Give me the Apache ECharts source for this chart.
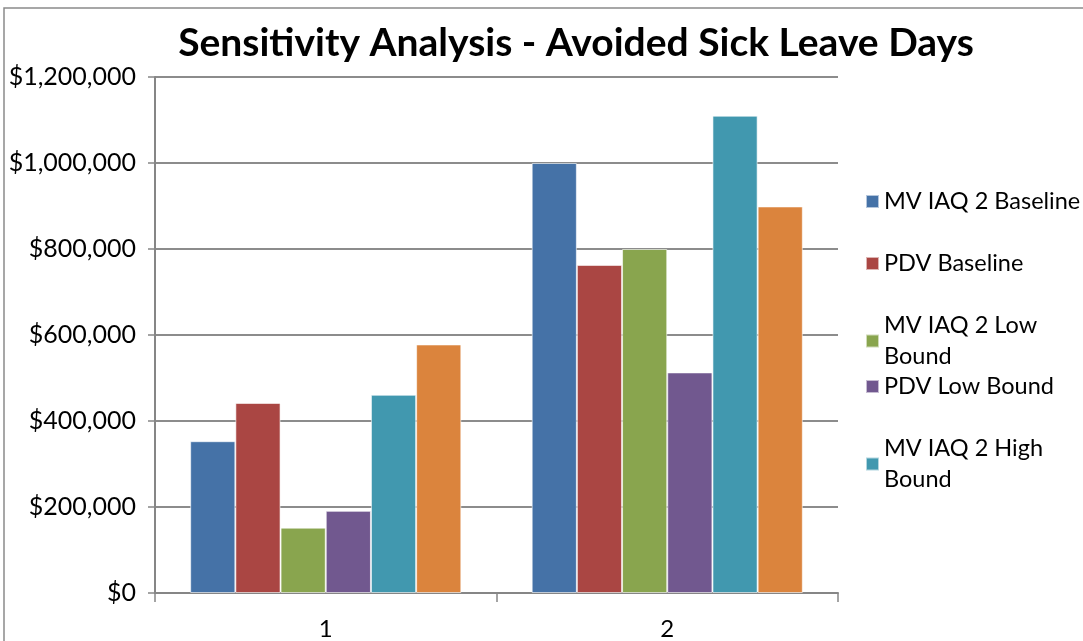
<!DOCTYPE html>
<html>
<head>
<meta charset="utf-8">
<script src="https://cdn.jsdelivr.net/npm/echarts@6/dist/echarts.min.js"></script>
<style>
  html, body { margin: 0; padding: 0; background: #fff; }
  #main { width: 1083px; height: 641px; }
</style>
</head>
<body>
<div id="main"></div>
<script>
// data
var categories = ['1', '2'];
var seriesNames = ['MV IAQ 2 Baseline', 'PDV Baseline', 'MV IAQ 2 Low Bound',
                   'PDV Low Bound', 'MV IAQ 2 High Bound', 'PDV High Bound'];
var mvBaseline = [353000, 1000000];
var pdvBaseline = [442000, 763000];
var mvLow = [152000, 800000];
var pdvLow = [191000, 513000];
var mvHigh = [461000, 1110000];
var pdvHigh = [578000, 899000];
var yTicks = [0, 200000, 400000, 600000, 800000, 1000000, 1200000];

var values = [mvBaseline, pdvBaseline, mvLow, pdvLow, mvHigh, pdvHigh];
var colors = ['#4572A7', '#AA4643', '#89A54E', '#71588F', '#4198AF', '#DB843D'];

var myChart = echarts.init(document.getElementById('main'), null, {renderer: 'canvas'});

var fmtMoney = function (v) {
  return '$' + v.toString().replace(/\B(?=(\d{3})+(?!\d))/g, ',');
};

// legend in excel is clipped: only 5 entries visible, laid out in fixed slots
var legendText = {
  'MV IAQ 2 Baseline': 'MV IAQ 2 Baseline',
  'PDV Baseline': 'PDV Baseline',
  'MV IAQ 2 Low Bound': 'MV IAQ 2 Low\nBound',
  'PDV Low Bound': 'PDV Low Bound',
  'MV IAQ 2 High Bound': 'MV IAQ 2 High\nBound'
};
var legendTops = [181, 243, 305, 366, 428];
var legends = legendTops.map(function (t, i) {
  return {
    data: [seriesNames[i]],
    left: 860,
    top: t,
    orient: 'vertical',
    itemWidth: 13,
    itemHeight: 13,
    itemGap: 0,
    icon: 'rect',
    selectedMode: false,
    formatter: function (n) { return legendText[n]; },
    textStyle: {
      fontFamily: 'Lato',
      fontSize: 23.5,
      color: '#000',
      lineHeight: 31,
      padding: [0, 0, 0, 0]
    }
  };
});

var option = {
  animation: false,
  color: colors,
  title: {
    text: 'Sensitivity Analysis - Avoided Sick Leave Days',
    left: 571,
    textAlign: 'center',
    top: 19,
    textStyle: {
      fontFamily: 'Lato',
      fontWeight: 'bold',
      fontSize: 39,
      color: '#000'
    }
  },
  legend: legends,
  grid: {
    left: 155,
    right: 245,
    top: 77,
    bottom: 47.5,
    containLabel: false
  },
  graphic: [{
    type: 'rect',
    shape: {x: 4, y: 8, width: 1200, height: 800},
    style: {fill: 'none', stroke: '#8a8a8a', lineWidth: 1.5},
    silent: true,
    z: -1
  }],
  xAxis: {
    type: 'category',
    data: categories,
    axisLine: {lineStyle: {color: '#868686', width: 2}},
    axisTick: {show: true, length: 9, lineStyle: {color: '#868686', width: 1.5}},
    axisLabel: {
      fontFamily: 'Lato',
      fontSize: 24,
      color: '#000',
      margin: 24
    }
  },
  yAxis: {
    type: 'value',
    min: yTicks[0],
    max: yTicks[yTicks.length - 1],
    interval: yTicks[1] - yTicks[0],
    axisLine: {show: true, lineStyle: {color: '#868686', width: 2}},
    axisTick: {show: true, length: 7, lineStyle: {color: '#868686', width: 1.5}},
    splitLine: {lineStyle: {color: '#8c8c8c', width: 2}},
    axisLabel: {
      formatter: fmtMoney,
      fontFamily: 'Lato',
      fontSize: 25,
      color: '#000',
      margin: 19
    }
  },
  series: seriesNames.map(function (n, i) {
    return {
      name: n,
      type: 'bar',
      data: values[i],
      barGap: '0%',
      barCategoryGap: '20.6%',
      itemStyle: {borderColor: 'rgba(255,255,255,0.6)', borderWidth: 1}
    };
  })
};

myChart.setOption(option);
</script>
</body>
</html>
